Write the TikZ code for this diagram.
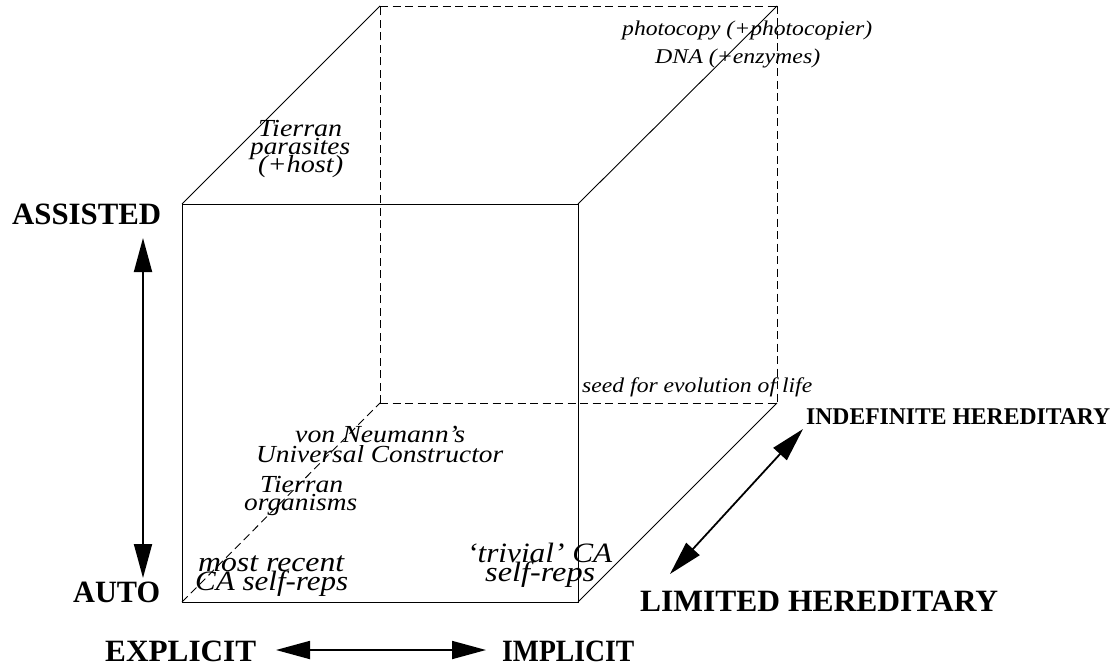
\documentclass[tikz,border=0pt]{standalone}
\usepackage{fontspec}
\setmainfont{Liberation Serif}
\usetikzlibrary{arrows.meta}
% set a line of text to a given width (in pt), keeping its height
\newcommand\fitto[2]{\resizebox{#1pt}{\height}{#2}}
\tikzset{
  edge/.style={line width=0.9pt},
  hidden/.style={line width=0.9pt, dash pattern=on 8pt off 4.5pt},
  axis/.style={line width=1.8pt,
    {Triangle[length=34pt,width=18pt]}-{Triangle[length=34pt,width=18pt]}},
  lbl/.style={inner sep=0pt, anchor=base west,
    font=\bfseries\fontsize{31}{31}\selectfont},
  lblsmall/.style={inner sep=0pt, anchor=base west,
    font=\bfseries\fontsize{24}{24}\selectfont},
  itsmall/.style={inner sep=0pt, anchor=base west,
    font=\itshape\fontsize{21}{21}\selectfont},
  itmid/.style={inner sep=0pt, anchor=base west,
    font=\itshape\fontsize{24.5}{24.5}\selectfont},
  itbig/.style={inner sep=0pt, anchor=base west,
    font=\itshape\fontsize{28}{28}\selectfont},
}
\begin{document}
\begin{tikzpicture}[x=1pt, y=-1pt]
\useasboundingbox (0,0) rectangle (1117,666);

% cube corners: front face and back face
\coordinate (F1) at (182,204);
\coordinate (F2) at (578,204);
\coordinate (F3) at (578,602);
\coordinate (F4) at (182,602);
\coordinate (B1) at (380,6);
\coordinate (B2) at (777,6);
\coordinate (B3) at (777,403);
\coordinate (B4) at (380,403);

% hidden edges
\draw[hidden] (F4) -- (B4);
\draw[hidden] (B4) -- (B1);
\draw[hidden] (B4) -- (B3);
\draw[hidden] (B1) -- (B2);
\draw[hidden] (B2) -- (B3);

% visible edges
\draw[edge] (F1) -- (F2) -- (F3) -- (F4) -- cycle;
\draw[edge] (F1) -- (B1);
\draw[edge] (F2) -- (B2);
\draw[edge] (F3) -- (B3);

% axis labels
\node[lbl] (assisted) at (12,225) {\fitto{149}{ASSISTED}};
\node[lbl] (auto) at (73,602) {\fitto{87}{AUTO}};
\node[lbl] (explicit) at (105,661) {\fitto{151}{EXPLICIT}};
\node[lbl] (implicit) at (502,661) {\fitto{132}{IMPLICIT}};
\node[lbl] (limited) at (640,611) {\fitto{358}{LIMITED HEREDITARY}};
\node[lblsmall] (indefinite) at (806,424) {\fitto{304}{INDEFINITE HEREDITARY}};

% axis arrows
\coordinate (vtop) at (143,238);
\coordinate (vbot) at (143,578);
\coordinate (hleft) at (276,650);
\coordinate (hright) at (486,650);
\coordinate (dlow) at (670,574);
\coordinate (dhigh) at (803,429);
\draw[axis] (vtop) -- (vbot);
\draw[axis] (hleft) -- (hright);
\draw[axis] (dlow) -- (dhigh);

% examples placed in the cube
\node[itsmall] (photo) at (622,36) {\fitto{250}{photocopy (+photocopier)}};
\node[itsmall] (dna) at (655,64) {\fitto{165}{DNA (+enzymes)}};
\node[itmid] (par1) at (258,136) {\fitto{84}{Tierran}};
\node[itmid] (par2) at (250,154) {\fitto{100}{parasites}};
\node[itmid] (par3) at (258,173) {\fitto{85}{(+host)}};
\node[itsmall] (seed) at (582,392) {\fitto{230}{seed for evolution of life}};
\node[itmid] (vn1) at (295,442) {\fitto{170}{von Neumann's}};
\node[itmid] (vn2) at (256,462) {\fitto{247}{Universal Constructor}};
\node[itmid] (org1) at (260,492) {\fitto{83}{Tierran}};
\node[itmid] (org2) at (244,510) {\fitto{113}{organisms}};
\node[itbig] (ca1) at (198,571) {\fitto{146}{most recent}};
\node[itbig] (ca2) at (195,590) {\fitto{153}{CA self-reps}};
\node[itbig] (tr1) at (467,562) {\fitto{145}{`trivial' CA}};
\node[itbig] (tr2) at (485,581) {\fitto{110}{self-reps}};
\end{tikzpicture}
\end{document}
